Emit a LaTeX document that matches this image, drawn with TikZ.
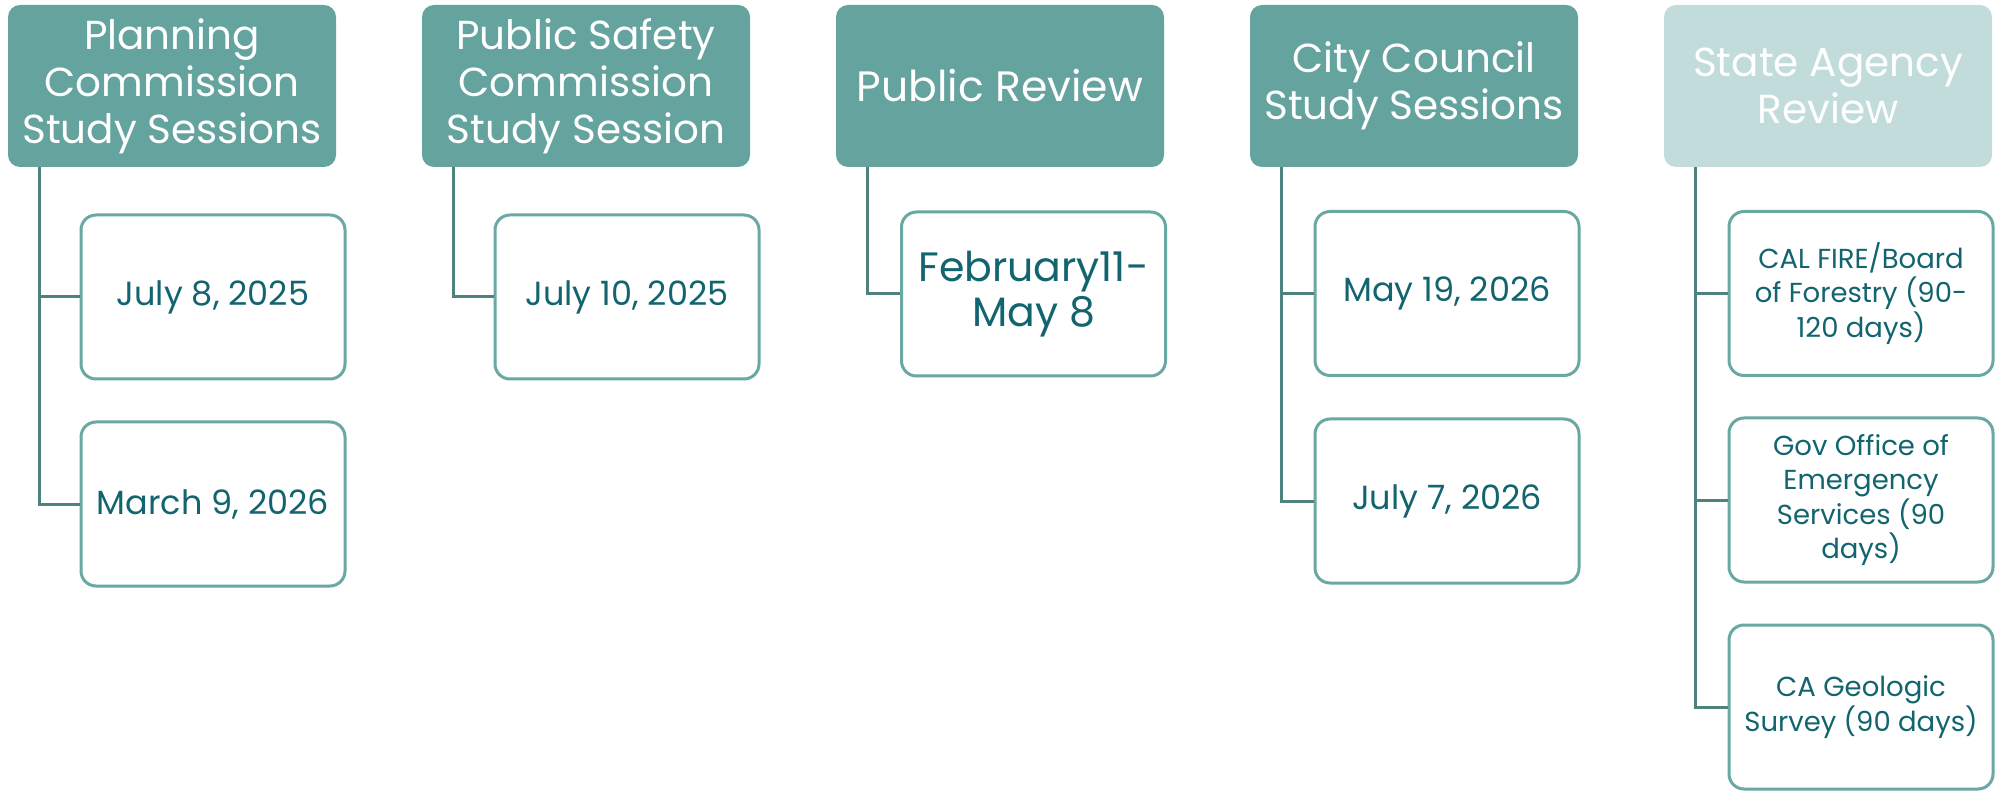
\documentclass[tikz,border=0pt]{standalone}
\usepackage{fontspec}
\setmainfont{Poppins}
\definecolor{hdrc}{HTML}{64A39E}
\definecolor{hdrlight}{HTML}{C1DCDA}
\definecolor{kidline}{HTML}{69A8A3}
\definecolor{kidtext}{HTML}{12646F}
\definecolor{conncol}{HTML}{4E827E}
\tikzset{
  hdr/.style={rounded corners=12pt, fill=hdrc, text=white, minimum width=328pt, minimum height=162pt,
    align=center, inner sep=0pt, font=\fontsize{40.5}{47}\selectfont},
  kid/.style={draw=kidline, line width=3pt, rounded corners=15pt, fill=white, text=kidtext,
    minimum width=264pt, minimum height=164pt, align=center, inner sep=0pt},
  kidbig/.style={kid, font=\fontsize{33.5}{40}\selectfont},
  kidsmall/.style={kid, font=\fontsize{27.5}{34.5}\selectfont},
  conn/.style={draw=conncol, line width=3pt},
}
\begin{document}
\begin{tikzpicture}[x=1pt,y=-1pt]
\useasboundingbox (0,0) rectangle (2003,791);
% headers
\node[hdr] (P) at (172,86) {Planning\\Commission\\Study Sessions};
\node[hdr] (S) at (586,86) {Public Safety\\Commission\\Study Session};
\node[hdr, font=\fontsize{42.5}{47}\selectfont] (R) at (1000,86) {Public Review};
\node[hdr] (C) at (1414,86) {City Council\\Study Sessions};
\node[hdr, fill=hdrlight] (A) at (1828,86) {State Agency\\Review};
% children
\node[kidbig] (p1) at (213,297) {July 8, 2025};
\node[kidbig] (p2) at (213,504) {March 9, 2026};
\node[kidbig] (s1) at (627,297) {July 10, 2025};
\node[kid, font=\fontsize{41}{45}\selectfont] (r1) at (1033.5,294) {February11-\\May 8};
\node[kidbig] (c1) at (1447,293.5) {May 19, 2026};
\node[kidbig] (c2) at (1447,501) {July 7, 2026};
\node[kidsmall] (a1) at (1861,293.5) {CAL FIRE/Board\\of Forestry (90-\\120 days)};
\node[kidsmall] (a2) at (1861,500) {Gov Office of\\Emergency\\Services (90\\days)};
\node[kidsmall] (a3) at (1861,707) {CA Geologic\\Survey (90 days)};
% connectors
\draw[conn] ([xshift=32pt]P.south west) |- (p2.west);
\draw[conn] ([xshift=32pt]P.south west) |- (p1.west);
\draw[conn] ([xshift=32pt]S.south west) |- (s1.west);
\draw[conn] ([xshift=32pt]R.south west) |- (r1.west);
\draw[conn] ([xshift=32pt]C.south west) |- (c2.west);
\draw[conn] ([xshift=32pt]C.south west) |- (c1.west);
\draw[conn] ([xshift=32pt]A.south west) |- (a3.west);
\draw[conn] ([xshift=32pt]A.south west) |- (a2.west);
\draw[conn] ([xshift=32pt]A.south west) |- (a1.west);
\end{tikzpicture}
\end{document}
